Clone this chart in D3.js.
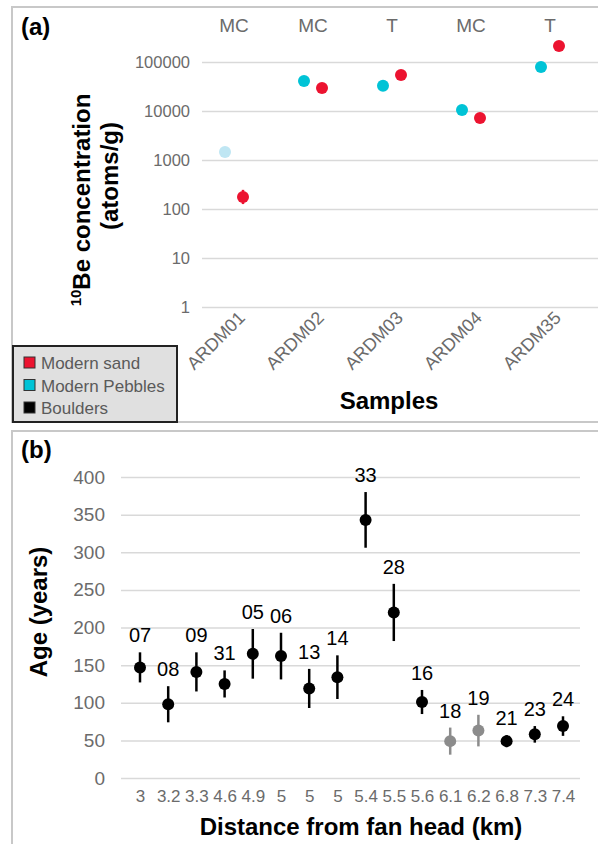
<!DOCTYPE html>
<html>
<head>
<meta charset="utf-8">
<script src="https://cdn.jsdelivr.net/npm/d3@7"></script>
<style>
  body { margin: 0; background: #fff; }
  text { font-family: "Liberation Sans", Arial, sans-serif; }
  .narrow { font-family: "Liberation Sans Narrow", "Arial Narrow", "Liberation Sans", sans-serif; }
</style>
</head>
<body>
<div id="container"></div>
<script>
// ---- panel (a): 10Be concentrations ----
const samples = ["ARDM01", "ARDM02", "ARDM03", "ARDM04", "ARDM35"];
const sourceLabels = ["MC", "MC", "T", "MC", "T"];
const pebbles = [1450, 41000, 32600, 10500, 79000];
const sand = [176, 29600, 54000, 7200, 213000];
const sandErrLow = [50, 0, 0, 0, 0];
const sandErrHigh = [70, 0, 0, 0, 0];
const logTicks = [1, 10, 100, 1000, 10000, 100000];

// ---- panel (b): boulder ages ----
const boulderIds = ["07", "08", "09", "31", "05", "06", "13", "14", "33", "28", "16", "18", "19", "21", "23", "24"];
const distances = ["3", "3.2", "3.3", "4.6", "4.9", "5", "5", "5", "5.4", "5.5", "5.6", "6.1", "6.2", "6.8", "7.3", "7.4"];
const ages = [147, 98, 141, 125, 165, 162, 119, 134, 343, 220, 101, 49, 63, 49, 58, 69];
const ageErr = [20, 24, 26, 18, 33, 31, 26, 29, 37, 38, 16, 18, 21, 8, 11, 13];
const greyIds = ["18", "19"];
const ageTicks = [0, 50, 100, 150, 200, 250, 300, 350, 400];

const legendItems = [
  { name: "Modern sand", color: "#ec1330" },
  { name: "Modern Pebbles", color: "#00c3d6" },
  { name: "Boulders", color: "#000" }
];

const W = 598, H = 844;
const red = "#ec1330", cyan = "#00c3d6", paleBlue = "#bfe6f3";
const tickGrey = "#6b6b6b", gridGrey = "#d9d9d9";

const svg = d3.create("svg").attr("width", W).attr("height", H);

// panel frames
svg.append("rect").attr("x", 12).attr("y", 7).attr("width", 620).attr("height", 415)
  .attr("fill", "none").attr("stroke", "#c8c8c8").attr("stroke-width", 2);
svg.append("rect").attr("x", 12).attr("y", 431).attr("width", 620).attr("height", 440)
  .attr("fill", "none").attr("stroke", "#c8c8c8").attr("stroke-width", 2);

// ================= panel (a) =================
const xa = d3.scalePoint().domain(samples).range([234, 550]);
const ya = d3.scaleLog().domain([1, 100000]).range([307, 62]);

const ga = svg.append("g");

const yAxisA = ga.append("g").attr("transform", "translate(202,0)")
  .call(d3.axisLeft(ya).tickValues(logTicks).tickFormat(d3.format("d"))
    .tickSize(-(W - 202)).tickPadding(12));
yAxisA.select(".domain").remove();
yAxisA.selectAll("line").attr("stroke", gridGrey).attr("stroke-width", 1.5);
yAxisA.selectAll("text").attr("fill", tickGrey).style("font-size", "16.5px")
  .style("font-family", "'Liberation Sans', Arial, sans-serif");

// sample labels, rotated
ga.selectAll(".xlab").data(samples).enter().append("text")
  .attr("transform", d => `translate(${xa(d) + 12},319) rotate(-45)`)
  .attr("text-anchor", "end")
  .attr("fill", tickGrey).style("font-size", "18px")
  .text(d => d);

// MC / T labels on top
ga.selectAll(".src").data(samples).enter().append("text")
  .attr("x", d => xa(d)).attr("y", 32)
  .attr("text-anchor", "middle").attr("fill", tickGrey).style("font-size", "19px")
  .text((d, i) => sourceLabels[i]);

// error bar for sand (only ARDM01 is larger than the marker)
ga.selectAll(".serr").data(samples).enter().append("line")
  .filter((d, i) => sandErrHigh[i] > 0)
  .attr("x1", d => xa(d) + 9).attr("x2", d => xa(d) + 9)
  .attr("y1", d => { const i = samples.indexOf(d); return ya(sand[i] - sandErrLow[i]); })
  .attr("y2", d => { const i = samples.indexOf(d); return ya(sand[i] + sandErrHigh[i]); })
  .attr("stroke", red).attr("stroke-width", 2.5);

ga.selectAll(".peb").data(samples).enter().append("circle")
  .attr("cx", d => xa(d) - 9).attr("cy", (d, i) => ya(pebbles[i])).attr("r", 6)
  .attr("fill", (d, i) => i === 0 ? paleBlue : cyan);

ga.selectAll(".sand").data(samples).enter().append("circle")
  .attr("cx", d => xa(d) + 9).attr("cy", (d, i) => ya(sand[i])).attr("r", 6)
  .attr("fill", red);

// titles
ga.append("text").attr("x", 21).attr("y", 35).style("font-size", "24px").style("font-weight", "bold").text("(a)");
ga.append("text").attr("x", 389).attr("y", 409).attr("text-anchor", "middle")
  .style("font-size", "24px").style("font-weight", "bold").text("Samples");

const ytA = ga.append("text").attr("transform", "translate(90,200) rotate(-90)")
  .attr("text-anchor", "middle").style("font-size", "24px").style("font-weight", "bold");
ytA.append("tspan").attr("dy", -9).style("font-size", "15px").text("10");
ytA.append("tspan").attr("dy", 9).text("Be concentration");
ga.append("text").attr("transform", "translate(118,176) rotate(-90)")
  .attr("text-anchor", "middle").style("font-size", "24px").style("font-weight", "bold")
  .text("(atoms/g)");

// legend
const lg = svg.append("g");
lg.append("rect").attr("x", 13).attr("y", 346).attr("width", 164).attr("height", 76)
  .attr("fill", "#e0e0e0").attr("stroke", "#222").attr("stroke-width", 2);
const li = lg.selectAll(".li").data(legendItems).enter().append("g")
  .attr("transform", (d, i) => `translate(24,${363 + i * 22.5})`);
li.append("rect").attr("x", 0).attr("y", -6).attr("width", 11).attr("height", 11)
  .attr("fill", d => d.color).attr("stroke", "#333").attr("stroke-width", 1);
li.append("text").attr("x", 17).attr("y", 6).attr("fill", "#5a5a5a").style("font-size", "17px")
  .text(d => d.name);

// ================= panel (b) =================
const xb = d3.scalePoint().domain(boulderIds).range([140, 563]);
const yb = d3.scaleLinear().domain([0, 400]).range([778, 477]);

const gb = svg.append("g");

const yAxisB = gb.append("g").attr("transform", "translate(121,0)")
  .call(d3.axisLeft(yb).tickValues(ageTicks).tickSize(-(580 - 121)).tickPadding(16));
yAxisB.select(".domain").remove();
yAxisB.selectAll("line").attr("stroke", gridGrey).attr("stroke-width", 1.5);
yAxisB.selectAll("text").attr("class", "narrow").attr("fill", tickGrey).style("font-size", "19px");

const xAxisB = gb.append("g").attr("transform", "translate(0,788)")
  .call(d3.axisBottom(xb).tickSize(0).tickPadding(2).tickFormat((d, i) => distances[i]));
xAxisB.select(".domain").remove();
xAxisB.selectAll("text").attr("class", "narrow").attr("fill", tickGrey).style("font-size", "17px");

const pts = gb.selectAll(".pt").data(boulderIds).enter().append("g");
pts.append("line")
  .attr("x1", d => xb(d)).attr("x2", d => xb(d))
  .attr("y1", (d, i) => yb(ages[i] - ageErr[i])).attr("y2", (d, i) => yb(ages[i] + ageErr[i]))
  .attr("stroke", d => greyIds.includes(d) ? "#8c8c8c" : "#000").attr("stroke-width", 2.5);
pts.append("circle")
  .attr("cx", d => xb(d)).attr("cy", (d, i) => yb(ages[i])).attr("r", 6)
  .attr("fill", d => greyIds.includes(d) ? "#8c8c8c" : "#000");
pts.append("text").attr("class", "narrow")
  .attr("x", d => xb(d)).attr("y", (d, i) => yb(ages[i] + ageErr[i]) - 10)
  .attr("text-anchor", "middle").style("font-size", "20px").attr("fill", "#000")
  .text(d => d);

gb.append("text").attr("x", 21).attr("y", 458).style("font-size", "24px").style("font-weight", "bold").text("(b)");
gb.append("text").attr("x", 361).attr("y", 835).attr("text-anchor", "middle")
  .style("font-size", "24px").style("font-weight", "bold").text("Distance from fan head (km)");
gb.append("text").attr("transform", "translate(47,612) rotate(-90)").attr("text-anchor", "middle")
  .style("font-size", "24px").style("font-weight", "bold").text("Age (years)");

document.getElementById("container").append(svg.node());
</script>
</body>
</html>
